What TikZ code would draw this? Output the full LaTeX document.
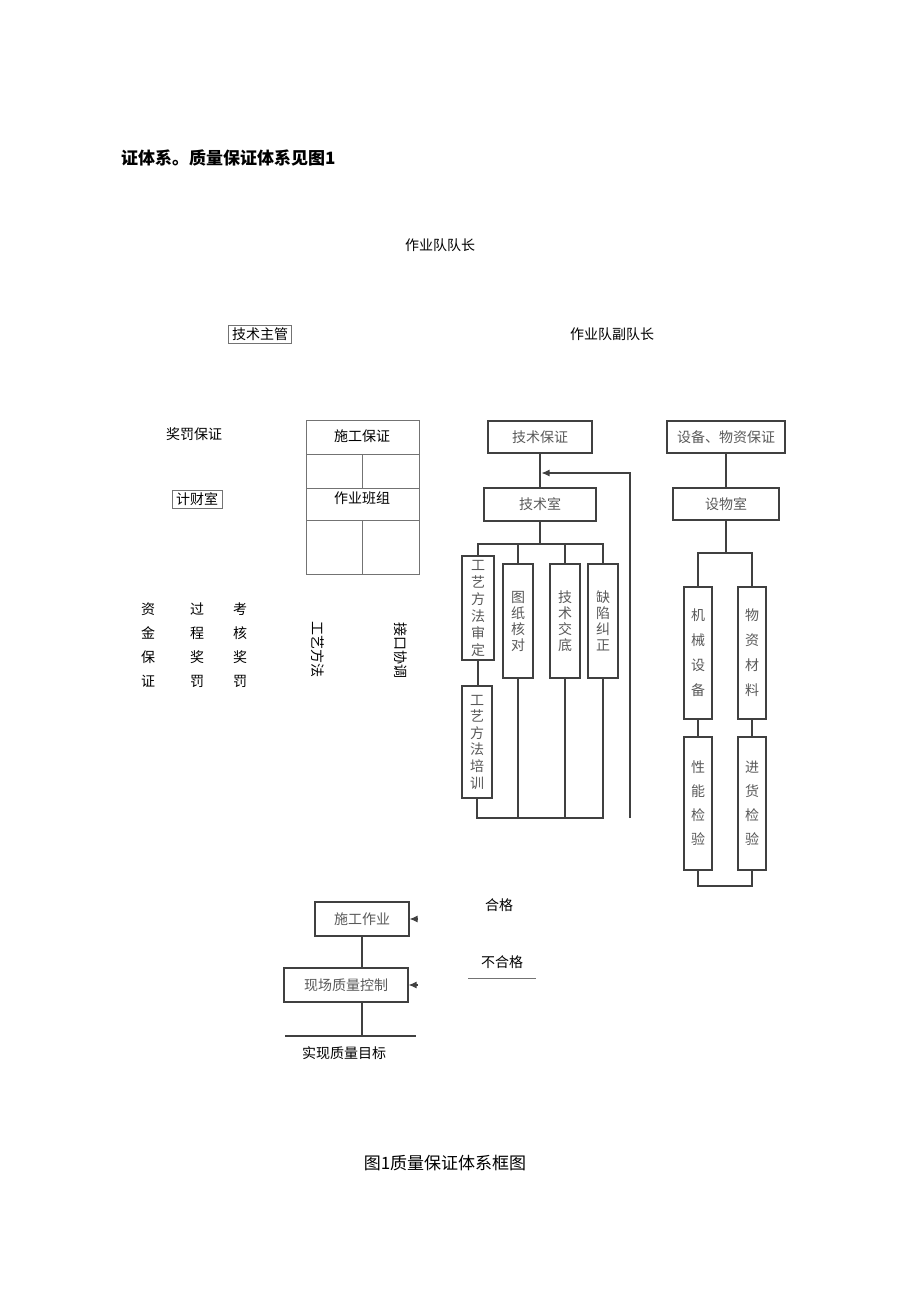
\documentclass[tikz,border=0pt]{standalone}
\usepackage{fontspec}
\setmainfont{Noto Sans CJK SC}
\usetikzlibrary{arrows.meta}
\tikzset{
  lbl/.style={inner sep=0pt, font=\fontsize{14}{16}\selectfont},
  bx/.style={draw=black!75, line width=1.1pt, inner sep=0pt, text=black!65, font=\fontsize{14}{16}\selectfont},
  vbx/.style={bx, align=center, font=\fontsize{14}{#1}\selectfont},
  vbx/.default=17,
  thinbox/.style={draw=black!55, line width=0.6pt},
  ln/.style={draw=black!75, line width=1.1pt},
  tip/.style={-{Latex[length=8pt,width=7pt]}},
}
\begin{document}
\begin{tikzpicture}[x=1pt,y=-1pt]
  %%%%% START %%%%%
  \useasboundingbox (0,0) rectangle (920,1303);

  \node[lbl, anchor=west, font=\bfseries\fontsize{17}{19}\selectfont] (ttl) at (121,158) {证体系。质量保证体系见图1};

  \node[lbl] (dz) at (440,245) {作业队队长};
  \node[lbl, thinbox, inner xsep=3.5pt, inner ysep=2.5pt] (jszg) at (260,334) {技术主管};
  \node[lbl] (fdz) at (612,334) {作业队副队长};

  % left part
  \node[lbl] (jfbz) at (194,434) {奖罚保证};
  \node[lbl, thinbox, inner xsep=4pt, inner ysep=2.5pt] (jcs) at (197,499) {计财室};
  \node[lbl, align=center, font=\fontsize{14}{24}\selectfont] (zjbz) at (148,645) {资\\金\\保\\证};
  \node[lbl, align=center, font=\fontsize{14}{24}\selectfont] (gcjf) at (197,645) {过\\程\\奖\\罚};
  \node[lbl, align=center, font=\fontsize{14}{24}\selectfont] (khjf) at (240,645) {考\\核\\奖\\罚};

  % grid of 施工保证 / 作业班组
  \draw[thinbox] (306,420) rectangle (419,574);
  \draw[thinbox] (306,454) -- (419,454);
  \draw[thinbox] (306,488) -- (419,488);
  \draw[thinbox] (306,520) -- (419,520);
  \draw[thinbox] (362,454) -- (362,488);
  \draw[thinbox] (362,520) -- (362,574);
  \node[lbl] (sgbz) at (362,436) {施工保证};
  \node[lbl] (zybz) at (362,498) {作业班组};

  \node[lbl, rotate=-90] (gyff) at (318,649) {工艺方法};
  \node[lbl, rotate=-90] (jkxt) at (401,650) {接口协调};

  % technical branch
  \node[bx, minimum width=104pt, minimum height=32pt] (jsbz) at (540,437) {技术保证};
  \node[bx, minimum width=112pt, minimum height=33pt] (jss) at (540,504.5) {技术室};
  \node[vbx, minimum width=32pt, minimum height=104pt] (gysd) at (478,608) {工\\艺\\方\\法\\审\\定};
  \node[vbx=16, minimum width=30pt, minimum height=114pt] (tzhd) at (518,621) {图\\纸\\核\\对};
  \node[vbx=16, minimum width=30pt, minimum height=114pt] (jsjd) at (565,621) {技\\术\\交\\底};
  \node[vbx=16, minimum width=30pt, minimum height=114pt] (qxjz) at (603,621) {缺\\陷\\纠\\正};
  \node[vbx=16.6, minimum width=30pt, minimum height=112pt] (gypx) at (477,742) {工\\艺\\方\\法\\培\\训};

  \coordinate (jsbus) at (540,544);
  \coordinate (jsbot) at (540,818);
  \coordinate (fbtop) at (630,473);
  \coordinate (fbbot) at (630,818);

  \draw[ln] (jsbz) -- (jss);
  \draw[ln] (jss.south) -- (jsbus);
  \draw[ln] (gysd.north) |- (jsbus) -| (qxjz.north);
  \draw[ln] (tzhd.north) -- (tzhd.north |- jsbus);
  \draw[ln] (jsjd.north) -- (jsjd.north |- jsbus);
  \draw[ln] (gysd.south) -- (gysd.south |- gypx.north);
  \draw[ln] (gypx.south) |- (jsbot) -| (qxjz.south);
  \draw[ln] (tzhd.south) -- (tzhd.south |- jsbot);
  \draw[ln] (jsjd.south) -- (jsjd.south |- jsbot);
  \draw[ln, tip, shorten >=1.5pt] (fbbot) -- (fbtop) -- (fbtop -| jsbz.south);

  % equipment branch
  \node[bx, minimum width=118pt, minimum height=32pt] (sbbz) at (726,437) {设备、物资保证};
  \node[bx, minimum width=106pt, minimum height=32pt] (sws) at (726,504) {设物室};
  \node[vbx=25, minimum width=28pt, minimum height=132pt] (jxsb) at (698,653) {机\\械\\设\\备};
  \node[vbx=25, minimum width=28pt, minimum height=132pt] (wzcl) at (752,653) {物\\资\\材\\料};
  \node[vbx=24, minimum width=28pt, minimum height=133pt] (xnjy) at (698,803.5) {性\\能\\检\\验};
  \node[vbx=24, minimum width=28pt, minimum height=133pt] (jhjy) at (752,803.5) {进\\货\\检\\验};

  \coordinate (sbbus) at (726,553);
  \coordinate (sbbot) at (724,886);

  \draw[ln] (sbbz) -- (sws);
  \draw[ln] (sws.south) -- (sbbus);
  \draw[ln] (jxsb.north) |- (sbbus) -| (wzcl.north);
  \draw[ln] (jxsb.south) -- (jxsb.south |- xnjy.north);
  \draw[ln] (wzcl.south) -- (wzcl.south |- jhjy.north);
  \draw[ln] (xnjy.south) |- (sbbot) -| (jhjy.south);

  % bottom part
  \node[bx, minimum width=94pt, minimum height=34pt] (sgzy) at (362,919) {施工作业};
  \node[bx, minimum width=124pt, minimum height=34pt] (xckz) at (346,985) {现场质量控制};
  \node[lbl] (mb) at (344,1053) {实现质量目标};
  \node[lbl] (hg) at (499,905) {合格};
  \node[lbl] (bhg) at (502,962) {不合格};

  \coordinate (mbl) at (285,1036);
  \coordinate (mbr) at (416,1036);
  \coordinate (hgin) at (418,919);
  \coordinate (bhgin) at (418,985);
  \coordinate (bhgl) at (468,978);
  \coordinate (bhgr) at (536,978);

  \draw[ln] (sgzy.south) -- (sgzy.south |- xckz.north);
  \draw[ln] (sgzy.south |- xckz.south) -- (sgzy.south |- mbl);
  \draw[ln] (mbl) -- (mbr);
  \draw[ln, tip] (hgin) -- (hgin -| sgzy.east);
  \draw[ln, tip] (bhgin) -- (bhgin -| xckz.east);
  \draw[thinbox] (bhgl) -- (bhgr);

  \node[lbl, font=\fontsize{17}{19}\selectfont] (cap) at (445,1163) {图1质量保证体系框图};
  %%%%% END %%%%%
\end{tikzpicture}
\end{document}
